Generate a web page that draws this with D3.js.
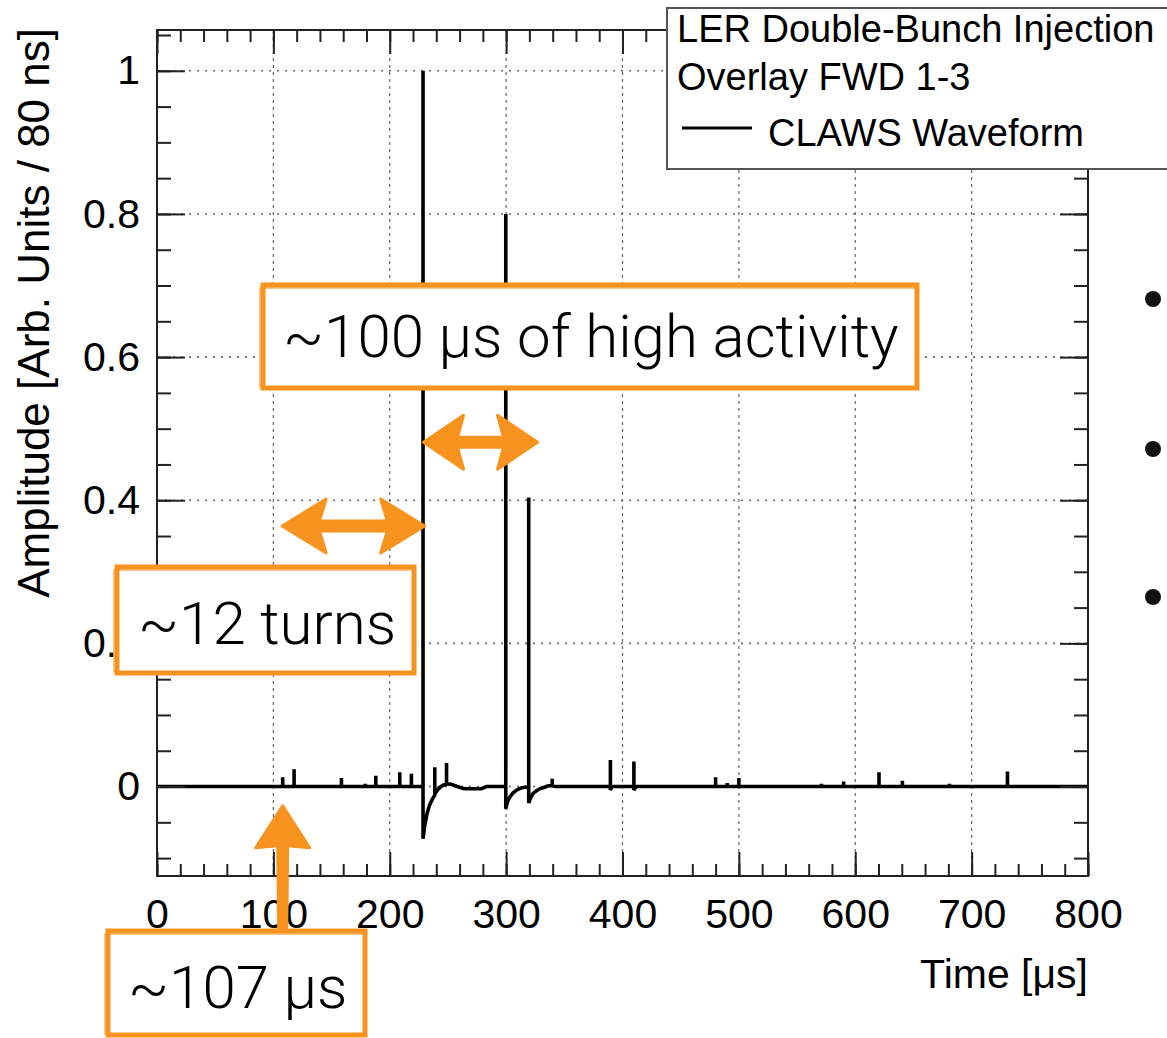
<!DOCTYPE html>
<html>
<head>
<meta charset="utf-8">
<script src="https://cdnjs.cloudflare.com/ajax/libs/d3/7.8.5/d3.min.js"></script>
<style>
  body { margin: 0; background: #fff; }
  svg { display: block; }
  .axis text { font-family: "Liberation Sans", Arial, sans-serif; font-size: 41px; fill: #000; }
  .axis line { stroke: #222; stroke-width: 2; }
  .axis path { display: none; }
  .note { font-family: Roboto, "Open Sans", sans-serif; font-weight: 300; font-size: 60px; fill: #000; }
</style>
</head>
<body>
<div id="chart"></div>
<script>
// axis ticks
var xMajor = [0, 100, 200, 300, 400, 500, 600, 700, 800];
var xMinor = d3.range(0, 801, 20);
var yMajor = [0, 0.2, 0.4, 0.6, 0.8, 1];
var yLabels = ["0", "0.2", "0.4", "0.6", "0.8", "1"];
var yMinor = [-0.1, -0.05, 0, 0.05, 0.1, 0.15, 0.2, 0.25, 0.3, 0.35, 0.4, 0.45, 0.5,
              0.55, 0.6, 0.65, 0.7, 0.75, 0.8, 0.85, 0.9, 0.95, 1, 1.05];

// CLAWS waveform (time in us, amplitude)
var waveTime = [0,
  108, 108, 108,  117.8, 117.8, 117.8,  158.5, 158.5, 158.5,  179, 179, 179,
  188, 188, 188,  208.6, 208.6, 208.6,  218.6, 218.6, 218.6,
  228.6, 228.6, 228.6, 230, 232, 234, 236.5,
  238.7, 238.7, 238.7, 241, 244, 246,
  248.8, 248.8, 248.8, 253, 258, 264, 279, 283,
  299.7, 299.7, 299.7, 301, 303, 306, 309, 313, 316,
  319.4, 319.4, 319.4, 321, 323, 326, 329, 333, 336,
  339.6, 339.6, 339.6, 343,
  389.6, 389.6, 389.6, 391,  409.8, 409.8, 409.8, 411.5,
  480, 480, 480,  490, 490, 490,  500, 500, 500,  571, 571, 571,
  590, 590, 590,  620.4, 620.4, 620.4,  640.5, 640.5, 640.5,
  681, 681, 681,  730.8, 730.8, 730.8,  800];
var waveAmp = [0,
  0, 0.013, 0,  0, 0.024, 0,  0, 0.012, 0,  0, 0.004, 0,
  0, 0.015, 0,  0, 0.02, 0,  0, 0.018, 0,
  0, 1.0, -0.073, -0.055, -0.038, -0.027, -0.018,
  -0.012, 0.027, -0.01, -0.005, 0.0, 0.002,
  0.003, 0.033, 0.004, 0.003, 0.0, -0.003, -0.003, 0,
  0, 0.8, -0.031, -0.022, -0.015, -0.009, -0.005, -0.002, -0.001,
  -0.001, 0.404, -0.023, -0.016, -0.01, -0.006, -0.003, -0.001, 0.001,
  0.001, 0.011, 0.001, 0,
  0, 0.037, -0.005, 0,  0, 0.035, -0.005, 0,
  0, 0.013, 0,  0, 0.005, 0,  0, 0.012, 0,  0, 0.004, 0,
  0, 0.007, 0,  0, 0.02, 0,  0, 0.008, 0,
  0, 0.004, 0,  0, 0.021, 0,  0];

var legendTitle = ["LER Double-Bunch Injection", "Overlay FWD 1-3"];
var seriesName = "CLAWS Waveform";
var xTitle = "Time [\u03bcs]";
var yTitle = "Amplitude [Arb. Units / 80 ns]";

var W = 1167, H = 1038;
var m = { left: 157, right: 1088, top: 30, bottom: 876 };
var orange = "#f7931e";

var x = d3.scaleLinear().domain([0, 800]).range([m.left, m.right]);
var y = d3.scaleLinear().domain([-0.125, 1.057]).range([m.bottom, m.top]);

var svg = d3.select("#chart").append("svg")
    .attr("width", W)
    .attr("height", H);

// grid
svg.append("g").selectAll("line")
    .data(xMajor.slice(1, -1))
    .enter().append("line")
    .attr("x1", function(d) { return x(d); })
    .attr("x2", function(d) { return x(d); })
    .attr("y1", m.top).attr("y2", m.bottom)
    .attr("stroke", "#666").attr("stroke-width", 1.2)
    .attr("stroke-dasharray", "3,4");

svg.append("g").selectAll("line")
    .data(yMajor)
    .enter().append("line")
    .attr("x1", m.left).attr("x2", m.right)
    .attr("y1", function(d) { return y(d); })
    .attr("y2", function(d) { return y(d); })
    .attr("stroke", "#666").attr("stroke-width", 1.6)
    .attr("stroke-dasharray", "2,6");

// waveform
var wave = waveTime.map(function(t, i) { return [t, waveAmp[i]]; });
var line = d3.line()
    .x(function(d) { return x(d[0]); })
    .y(function(d) { return y(d[1]); });

svg.append("path")
    .datum(wave)
    .attr("d", line)
    .attr("fill", "none")
    .attr("stroke", "#000")
    .attr("stroke-width", 3.6)
    .attr("stroke-linejoin", "bevel");

// frame
svg.append("rect")
    .attr("x", m.left).attr("y", m.top)
    .attr("width", m.right - m.left).attr("height", m.bottom - m.top)
    .attr("fill", "none").attr("stroke", "#222").attr("stroke-width", 2);

// ticks on all four sides, pointing inwards
var gx = svg.append("g").attr("class", "axis")
    .attr("transform", "translate(0," + m.bottom + ")")
    .call(d3.axisBottom(x).tickValues(xMajor).tickSizeInner(-24).tickSizeOuter(0));
gx.selectAll("text").attr("y", 52).attr("dy", 0);

svg.append("g").attr("class", "axis")
    .attr("transform", "translate(0," + m.bottom + ")")
    .call(d3.axisBottom(x).tickValues(xMinor).tickSize(-12).tickFormat(""));
svg.append("g").attr("class", "axis")
    .attr("transform", "translate(0," + m.top + ")")
    .call(d3.axisTop(x).tickValues(xMajor).tickSize(-24).tickFormat(""));
svg.append("g").attr("class", "axis")
    .attr("transform", "translate(0," + m.top + ")")
    .call(d3.axisTop(x).tickValues(xMinor).tickSize(-12).tickFormat(""));

svg.append("g").attr("class", "axis")
    .attr("transform", "translate(" + m.left + ",0)")
    .call(d3.axisLeft(y).tickValues(yMajor).tickSizeInner(-28).tickSizeOuter(0)
        .tickPadding(17)
        .tickFormat(function(d, i) { return yLabels[i]; }));
svg.append("g").attr("class", "axis")
    .attr("transform", "translate(" + m.left + ",0)")
    .call(d3.axisLeft(y).tickValues(yMinor).tickSize(-14).tickFormat(""));
svg.append("g").attr("class", "axis")
    .attr("transform", "translate(" + m.right + ",0)")
    .call(d3.axisRight(y).tickValues(yMajor).tickSize(-28).tickFormat(""));
svg.append("g").attr("class", "axis")
    .attr("transform", "translate(" + m.right + ",0)")
    .call(d3.axisRight(y).tickValues(yMinor).tickSize(-14).tickFormat(""));

// axis titles
svg.append("text")
    .attr("x", m.right).attr("y", 988)
    .attr("text-anchor", "end")
    .style("font-family", "'Liberation Sans', Arial, sans-serif")
    .style("font-size", "41px")
    .text(xTitle);

svg.append("text")
    .attr("transform", "translate(49," + (m.top - 2) + ") rotate(-90)")
    .attr("text-anchor", "end")
    .style("font-family", "'Liberation Sans', Arial, sans-serif")
    .style("font-size", "44px")
    .text(yTitle);

// legend
var lg = svg.append("g");
lg.append("rect")
    .attr("x", 667).attr("y", 8)
    .attr("width", 540).attr("height", 161)
    .attr("fill", "#fff").attr("stroke", "#555").attr("stroke-width", 2);
lg.selectAll("text.title")
    .data(legendTitle)
    .enter().append("text")
    .attr("x", 677)
    .attr("y", function(d, i) { return 42 + i * 48; })
    .style("font-family", "'Liberation Sans', Arial, sans-serif")
    .style("font-size", "38px")
    .text(function(d) { return d; });
lg.append("line")
    .attr("x1", 682).attr("x2", 752).attr("y1", 128).attr("y2", 128)
    .attr("stroke", "#000").attr("stroke-width", 3);
lg.append("text")
    .attr("x", 768).attr("y", 146)
    .style("font-family", "'Liberation Sans', Arial, sans-serif")
    .style("font-size", "38px")
    .text(seriesName);

// orange annotations
function sketchBox(x0, y0, w, h) {
    svg.append("rect")
        .attr("x", x0).attr("y", y0).attr("width", w).attr("height", h)
        .attr("fill", "#fff").attr("stroke", orange).attr("stroke-width", 5);
    svg.append("rect")
        .attr("x", x0 - 3).attr("y", y0 + 3).attr("width", w + 2).attr("height", h - 4)
        .attr("fill", "none").attr("stroke", orange).attr("stroke-width", 1.5)
        .attr("opacity", 0.7);
}

function doubleArrow(x1, x2, yc, hl, hh, sh) {
    var pts = [[x1, yc], [x1 + hl, yc - hh], [x1 + hl * 0.85, yc - sh], [x2 - hl * 0.85, yc - sh],
               [x2 - hl, yc - hh], [x2, yc], [x2 - hl, yc + hh], [x2 - hl * 0.85, yc + sh],
               [x1 + hl * 0.85, yc + sh], [x1 + hl, yc + hh]];
    svg.append("path")
        .attr("d", "M" + pts.join("L") + "Z")
        .attr("fill", orange).attr("stroke", orange)
        .attr("stroke-width", 3).attr("stroke-linejoin", "round");
}

var notes = [
    { text: "~100 \u03bcs of high activity", box: [263, 285, 654, 103], tx: 283, ty: 357 },
    { text: "~12 turns", box: [117, 567, 297, 106], tx: 138, ty: 644 },
    { text: "~107 \u03bcs", box: [108, 931, 257, 104], tx: 128, ty: 1008 }
];

doubleArrow(x(229), x(327), y(0.481), 40, 27, 5);
doubleArrow(x(107.5), x(230), y(0.364), 44, 27, 5);

// vertical arrow to the first turn
var ax = x(108), tipY = y(-0.027);
svg.append("path")
    .attr("d", "M" + ax + "," + tipY +
        "L" + (ax + 27) + "," + (tipY + 42) +
        "L" + (ax + 5) + "," + (tipY + 40) +
        "L" + (ax + 4) + "," + 935 +
        "L" + (ax - 4) + "," + 935 +
        "L" + (ax - 5) + "," + (tipY + 40) +
        "L" + (ax - 27) + "," + (tipY + 42) + "Z")
    .attr("fill", orange).attr("stroke", orange)
    .attr("stroke-width", 3).attr("stroke-linejoin", "round");

notes.forEach(function(n) {
    sketchBox(n.box[0], n.box[1], n.box[2], n.box[3]);
    svg.append("text")
        .attr("class", "note")
        .attr("x", n.tx).attr("y", n.ty)
        .text(n.text);
});

// slide bullets cut at the right edge
svg.append("g").selectAll("circle")
    .data([299, 449, 597])
    .enter().append("circle")
    .attr("cx", 1153).attr("cy", function(d) { return d; })
    .attr("r", 8).attr("fill", "#111");
</script>
</body>
</html>
